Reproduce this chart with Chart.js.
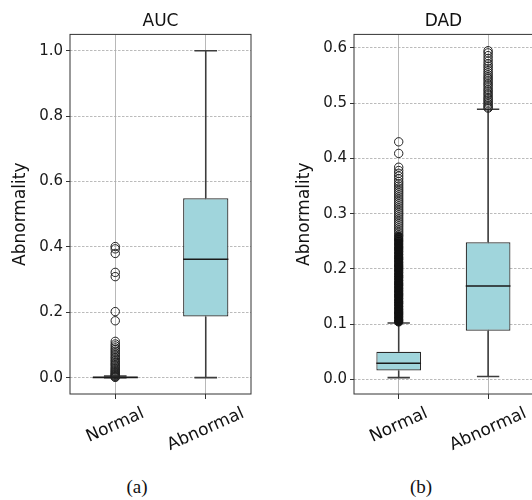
<!DOCTYPE html>
<html>
<head>
<meta charset="utf-8">
<script src="https://cdn.jsdelivr.net/npm/chart.js@4.4.0/dist/chart.umd.min.js"></script>
<style>
  body { margin: 0; background: #fff; }
  #wrap { position: relative; width: 532px; height: 500px; overflow: hidden; }
  canvas { position: absolute; top: 0; }
  .cap { position: absolute; top: 476px; width: 80px; text-align: center; font: 19px 'Liberation Serif', serif; line-height: 22px; color: #111; }
</style>
</head>
<body>
<div id="wrap">
  <canvas id="auc" width="266" height="470" style="left:0"></canvas>
  <canvas id="dad" width="272" height="470" style="left:266px"></canvas>
  <div class="cap" style="left:97px">(a)</div>
  <div class="cap" style="left:381px">(b)</div>
</div>
<script>
const categories = ['Normal', 'Abnormal'];
const positions = [1, 2];

// AUC panel: box stats per category
const aucQ1 = [0.0, 0.187];
const aucMedian = [0.0, 0.362];
const aucQ3 = [0.004, 0.549];
const aucLow = [0.0, 0.0];
const aucHigh = [0.005, 1.0];
const aucOutNormal = [0.401, 0.394, 0.380, 0.322, 0.309, 0.202, 0.174, 0.111, 0.103, 0.097,
  0.091, 0.086, 0.081, 0.076, 0.071, 0.066, 0.061, 0.057, 0.052, 0.048, 0.044, 0.040, 0.036,
  0.032, 0.028, 0.024, 0.021, 0.018, 0.015, 0.012, 0.010, 0.008, 0.006, 0.004, 0.002, 0.001];
const aucOutAbnormal = [];
const aucTicks = [0.0, 0.2, 0.4, 0.6, 0.8, 1.0];
const aucRange = [-0.05, 1.05];

// DAD panel
const dadQ1 = [0.016, 0.088];
const dadMedian = [0.029, 0.169];
const dadQ3 = [0.050, 0.248];
const dadLow = [0.003, 0.005];
const dadHigh = [0.102, 0.489];
const dadOutNormal = [0.430, 0.409, 0.384, 0.378, 0.373, 0.368, 0.363, 0.358, 0.354, 0.350,
  0.346, 0.342, 0.338, 0.334, 0.330, 0.326, 0.322, 0.318, 0.314, 0.310, 0.306, 0.302, 0.298,
  0.294, 0.290, 0.286, 0.282, 0.278, 0.274, 0.270, 0.266, 0.262];
// the part of the normal outliers that overlaps into a solid black column
const dadOutNormalSolid = [0.259, 0.254, 0.250, 0.245, 0.240, 0.236, 0.231, 0.226, 0.221, 0.217,
  0.212, 0.207, 0.203, 0.198, 0.193, 0.188, 0.184, 0.179, 0.174, 0.170, 0.165, 0.160, 0.155,
  0.151, 0.146, 0.141, 0.137, 0.132, 0.127, 0.122, 0.118, 0.113, 0.108, 0.104];
const dadOutAbnormal = [0.595, 0.591, 0.586, 0.581, 0.576, 0.571, 0.567, 0.563, 0.559, 0.555,
  0.551, 0.547, 0.544, 0.540, 0.536, 0.533, 0.529, 0.525, 0.522, 0.518, 0.515, 0.511, 0.508,
  0.505, 0.502, 0.499, 0.496, 0.493, 0.491];
const dadTicks = [0.0, 0.1, 0.2, 0.3, 0.4, 0.5, 0.6];
const dadRange = [-0.0266, 0.6245];

const BOX_W = 0.5;
const CAP_W = 0.25;
const boxColor = '#a0d5dc';

Chart.defaults.font.family = "'DejaVu Sans', sans-serif";
Chart.defaults.color = '#111';

// turn [x1, y1, x2, y2] segments into one broken line
function segments(list) {
  const pts = [];
  list.forEach(([x1, y1, x2, y2]) => {
    pts.push({x: x1, y: y1}, {x: x2, y: y2}, {x: x2, y: null});
  });
  return pts;
}

function points(lists) {
  const pts = [];
  lists.forEach((vals, i) => vals.forEach(v => pts.push({x: positions[i], y: v})));
  return pts;
}

const framePlugin = {
  id: 'frame',
  afterDraw(chart) {
    const {ctx, chartArea: a} = chart;
    const xs = chart.scales.x;
    ctx.save();
    ctx.strokeStyle = '#333';
    ctx.lineWidth = 1;
    ctx.strokeRect(a.left, a.top, a.right - a.left, a.bottom - a.top);
    // rotated category labels centred under each tick
    const ang = 24 * Math.PI / 180;
    ctx.font = "17px 'DejaVu Sans'";
    ctx.fillStyle = '#111';
    ctx.textAlign = 'center';
    ctx.textBaseline = 'middle';
    categories.forEach((c, i) => {
      const w = ctx.measureText(c).width;
      const h = 17 * 0.76;
      const cx = xs.getPixelForValue(positions[i]);
      const cy = a.bottom + 13 + (w * Math.sin(ang) + h * Math.cos(ang)) / 2;
      ctx.save();
      ctx.translate(cx, cy);
      ctx.rotate(-ang);
      ctx.fillText(c, 0, 0);
      ctx.restore();
    });
    ctx.restore();
  }
};

function boxChart(id, s) {
  const whiskers = [], caps = [], medians = [];
  positions.forEach((p, i) => {
    whiskers.push([p, s.q3[i], p, s.hi[i]], [p, s.lo[i], p, s.q1[i]]);
    caps.push([p - CAP_W / 2, s.hi[i], p + CAP_W / 2, s.hi[i]], [p - CAP_W / 2, s.lo[i], p + CAP_W / 2, s.lo[i]]);
    medians.push([p - BOX_W / 2, s.med[i], p + BOX_W / 2, s.med[i]]);
  });

  const lineDs = (data, color, width, order) => ({
    type: 'line', data: data, borderColor: color, borderWidth: width,
    pointRadius: 0, spanGaps: false, fill: false, tension: 0, order: order
  });

  new Chart(document.getElementById(id), {
    type: 'bar',
    data: {
      datasets: [
        {
          data: positions.map((p, i) => ({x: p, y: [s.q1[i], s.q3[i]]})),
          backgroundColor: boxColor,
          borderColor: '#2a2a2a',
          borderWidth: 1.2,
          borderSkipped: false,
          barPercentage: BOX_W,
          categoryPercentage: 1,
          order: 3
        },
        lineDs(segments(whiskers), '#3d3d3d', 1.6, 4),
        lineDs(segments(caps), '#3d3d3d', 1.6, 2),
        lineDs(segments(medians), '#1a1a1a', 1.4, 1),
        {
          type: 'scatter', data: points(s.out), pointStyle: 'circle', pointRadius: 4.2,
          pointBorderWidth: 1, pointBorderColor: '#222', pointBackgroundColor: 'rgba(0,0,0,0)', order: 0
        },
        {
          type: 'scatter', data: points(s.solid), pointStyle: 'circle', pointRadius: 4.2,
          pointBorderWidth: 1, pointBorderColor: '#111', pointBackgroundColor: '#111', order: 0
        }
      ]
    },
    options: {
      responsive: false,
      animation: false,
      events: [],
      layout: { padding: { left: 0, right: s.rightPad, top: 0, bottom: 0 } },
      plugins: {
        legend: { display: false },
        tooltip: { enabled: false },
        title: {
          display: true, text: s.title, fullSize: false,
          font: { size: 17, weight: 'normal' }, color: '#111',
          padding: { top: 11, bottom: 3 }
        }
      },
      scales: {
        x: {
          type: 'linear', min: 0.5, max: 2.5, offset: false,
          afterBuildTicks: sc => { sc.ticks = positions.map(v => ({value: v})); },
          afterFit: sc => { sc.height = 76; },
          ticks: { display: false },
          grid: { offset: false, color: '#b8b8b8', lineWidth: 1, drawTicks: true, tickLength: 5, tickColor: '#333', tickWidth: 1 },
          border: { display: false }
        },
        y: {
          type: 'linear', min: s.range[0], max: s.range[1], beginAtZero: false,
          afterBuildTicks: sc => { sc.ticks = s.ticks.map(v => ({value: v})); },
          afterFit: sc => { sc.width = s.yWidth; },
          ticks: { callback: v => v.toFixed(1), font: { size: 15 }, color: '#1a1a1a', padding: 3 },
          grid: { color: '#a9a9a9', lineWidth: 0.8, tickLength: 4, tickColor: '#333', tickWidth: 1 },
          border: { display: false, dash: [2.5, 1.5] },
          title: {
            display: true, text: 'Abnormality', font: { size: 17 }, color: '#111',
            padding: { top: s.yTitlePad, bottom: 0 }
          }
        }
      }
    },
    plugins: [framePlugin]
  });
}

boxChart('auc', {
  title: 'AUC', q1: aucQ1, med: aucMedian, q3: aucQ3, lo: aucLow, hi: aucHigh,
  out: [aucOutNormal, aucOutAbnormal], solid: [[], []],
  ticks: aucTicks, range: aucRange, yWidth: 70, yTitlePad: 10, rightPad: 15
});

boxChart('dad', {
  title: 'DAD', q1: dadQ1, med: dadMedian, q3: dadQ3, lo: dadLow, hi: dadHigh,
  out: [dadOutNormal, dadOutAbnormal], solid: [dadOutNormalSolid, []],
  ticks: dadTicks, range: dadRange, yWidth: 88, yTitlePad: 28, rightPad: 3
});
</script>
</body>
</html>
